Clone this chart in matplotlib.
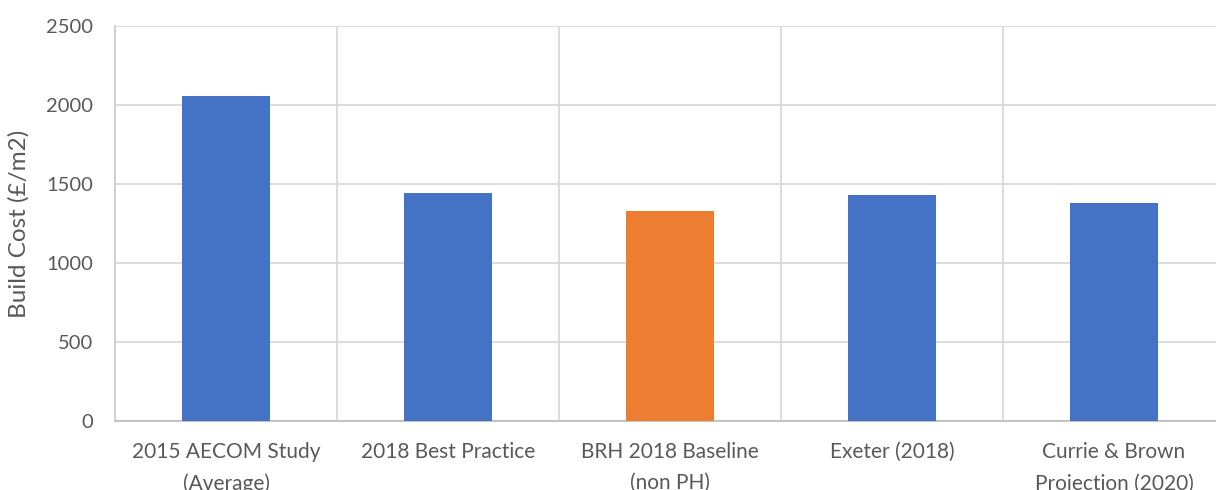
import matplotlib
matplotlib.use("Agg")
import matplotlib.pyplot as plt

categories = ["2015 AECOM Study\n(Average)", "2018 Best Practice", "BRH 2018 Baseline\n(non PH)",
              "Exeter (2018)", "Currie & Brown\nProjection (2020)"]
values = [2055, 1440, 1327, 1428, 1382]
colors = ["#4472C4", "#4472C4", "#ED7D31", "#4472C4", "#4472C4"]
yticks = [0, 500, 1000, 1500, 2000, 2500]

plt.rcParams['font.family'] = ['Lato', 'DejaVu Sans']

W, H = 1216, 490
fig = plt.figure(figsize=(W / 100, H / 100), dpi=100)
ax = fig.add_axes([115 / W, (H - 421) / H, (1225 - 115) / W, (421 - 26) / H])

x = list(range(len(categories)))
ax.bar(x, values, width=0.40, color=colors, zorder=3)

ax.set_xlim(-0.5, len(categories) - 0.5)
ax.set_ylim(0, 2500)
ax.set_yticks(yticks)
ax.set_xticks(x)
ax.set_xticklabels(categories, fontsize=15, color="#595959", linespacing=1.72)
ax.set_xticks([i + 0.5 for i in x[:-1]], minor=True)
ax.tick_params(axis='y', length=0, pad=16, labelsize=14.5, labelcolor="#595959")
ax.tick_params(axis='x', which='both', length=0, pad=15)

ax.grid(axis='y', color="#d9d9d9", linewidth=1.3, zorder=0)
ax.grid(axis='x', which='minor', color="#d9d9d9", linewidth=1.3, zorder=0)
ax.grid(axis='x', which='major', visible=False)

for s in ['top', 'right']:
    ax.spines[s].set_visible(False)
ax.spines['left'].set_color("#cccccc")
ax.spines['left'].set_linewidth(1.3)
ax.spines['bottom'].set_color("#bfbfbf")
ax.spines['bottom'].set_linewidth(1.3)

ax.set_ylabel("Build Cost (£/m2)", fontsize=17.5, color="#595959", labelpad=12)

fig.savefig("out.png", dpi=100)
